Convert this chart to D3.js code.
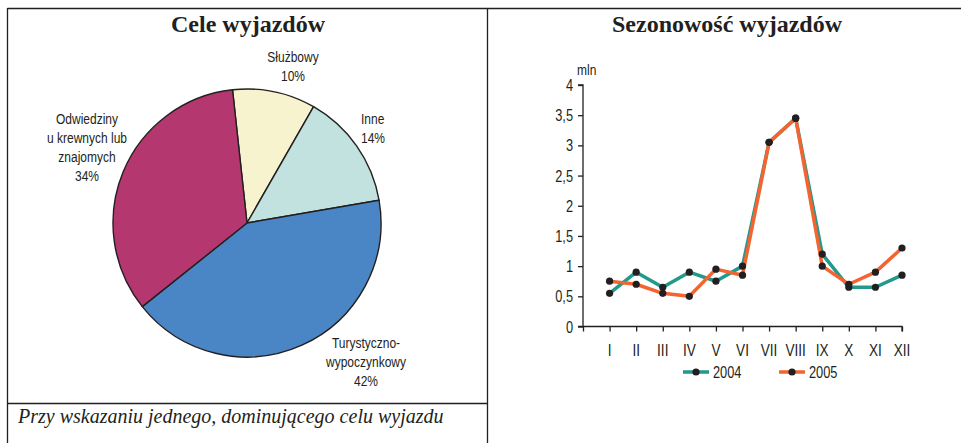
<!DOCTYPE html>
<html>
<head>
<meta charset="utf-8">
<script src="https://cdn.jsdelivr.net/npm/d3@7"></script>
<style>
  body { margin: 0; background: #fff; }
  svg { display: block; }
  .lbl { font-family: "Liberation Sans", Arial, sans-serif; font-size: 15px; fill: #231f20; }
  .title { font-family: "Liberation Serif", "Times New Roman", serif; font-weight: bold; font-size: 24px; fill: #231f20; }
</style>
</head>
<body>
<svg width="961" height="443"></svg>
<script>
// pie data
var purposes = ["Służbowy", "Inne", "Turystyczno-wypoczynkowy", "Odwiedziny u krewnych lub znajomych"];
var purposeShares = [10, 14, 42, 34];
var purposeColors = ["#f8f3cf", "#c2e2df", "#4a86c6", "#b5376f"];

// line data
var months = ["I", "II", "III", "IV", "V", "VI", "VII", "VIII", "IX", "X", "XI", "XII"];
var trips2004 = [0.55, 0.9, 0.65, 0.9, 0.75, 1.0, 3.05, 3.45, 1.2, 0.65, 0.65, 0.85];
var trips2005 = [0.75, 0.7, 0.55, 0.5, 0.95, 0.85, 3.05, 3.45, 1.0, 0.7, 0.9, 1.3];
var yTicks = [0, 0.5, 1, 1.5, 2, 2.5, 3, 3.5, 4];

var svg = d3.select("svg");
var ink = "#231f20";
var narrow = 0.8; // the original uses a condensed sans

// small helper: condensed text placed at x,y
function label(x, y, size, anchor) {
  return svg.append("g")
    .attr("transform", "translate(" + x + "," + y + ") scale(" + narrow + ",1)")
    .append("text").attr("class", "lbl").style("font-size", size + "px")
    .attr("text-anchor", anchor || "start");
}

// frame lines
svg.append("line").attr("x1", 7.5).attr("y1", 8.5).attr("x2", 961).attr("y2", 8.5).attr("stroke", ink).attr("stroke-width", 1.3);
svg.append("line").attr("x1", 7.5).attr("y1", 8).attr("x2", 7.5).attr("y2", 443).attr("stroke", ink).attr("stroke-width", 1.3);
svg.append("line").attr("x1", 487.5).attr("y1", 8).attr("x2", 487.5).attr("y2", 443).attr("stroke", ink).attr("stroke-width", 1.3);
svg.append("line").attr("x1", 7).attr("y1", 403.5).attr("x2", 488).attr("y2", 403.5).attr("stroke", ink).attr("stroke-width", 1.3);

// titles
svg.append("text").attr("class", "title").attr("x", 248).attr("y", 32).attr("text-anchor", "middle").text("Cele wyjazdów");
svg.append("text").attr("class", "title").attr("x", 727).attr("y", 32).attr("text-anchor", "middle").text("Sezonowość wyjazdów");

svg.append("text")
  .attr("x", 18).attr("y", 423)
  .style("font-family", "'Liberation Serif', 'Times New Roman', serif")
  .style("font-style", "italic").style("font-size", "20px").style("fill", ink)
  .text("Przy wskazaniu jednego, dominującego celu wyjazdu");

// ---- pie ----
var start = -6.2 * Math.PI / 180;
var pie = d3.pie().sort(null).startAngle(start).endAngle(start + 2 * Math.PI);
var arc = d3.arc().innerRadius(0).outerRadius(134);

var pg = svg.append("g").attr("transform", "translate(247,223)");
pg.selectAll("path")
  .data(pie(purposeShares))
  .enter().append("path")
  .attr("d", arc)
  .attr("fill", function(d, i) { return purposeColors[i]; })
  .attr("stroke", ink)
  .attr("stroke-width", 1.4)
  .attr("stroke-linejoin", "round");

// pie labels (line breaks as in the original)
var pieLabels = [
  {lines: ["Służbowy", "10%"], x: 293, y: 62, anchor: "middle"},
  {lines: ["Inne", "14%"], x: 361, y: 124, anchor: "start"},
  {lines: ["Turystyczno-", "wypoczynkowy", "42%"], x: 366, y: 348, anchor: "middle"},
  {lines: ["Odwiedziny", "u krewnych lub", "znajomych", "34%"], x: 87, y: 124, anchor: "middle"}
];
pieLabels.forEach(function(l) {
  var t = label(l.x, l.y, 15, l.anchor);
  l.lines.forEach(function(s, k) {
    t.append("tspan").attr("x", 0).attr("y", k * 19).text(s);
  });
});

// ---- line chart ----
var x = d3.scaleLinear().domain([0, 12]).range([583, 902]);
var y = d3.scaleLinear().domain([0, 4]).range([326.5, 85]);

var yAxis = d3.axisLeft(y).tickValues(yTicks).tickSize(5).tickPadding(5)
  .tickFormat(function(d) { return String(d).replace(".", ","); });
var gy = svg.append("g").attr("transform", "translate(583,0)").call(yAxis);
gy.selectAll(".tick text")
  .attr("class", "lbl").style("font-size", "16px")
  .attr("x", -10 / narrow).attr("dy", "0.35em")
  .attr("transform", "scale(" + narrow + ",1)");

var xAxis = d3.axisBottom(x).tickValues(d3.range(0, 13)).tickSize(5).tickFormat("");
var gx = svg.append("g").attr("transform", "translate(0,326.5)").call(xAxis);

[gx, gy].forEach(function(g) {
  g.select(".domain").attr("stroke", ink).attr("stroke-width", 1.3);
  g.selectAll(".tick line").attr("stroke", ink).attr("stroke-width", 1.3);
});
gy.select(".domain").attr("d", "M-5,85H0V326.5");
gx.select(".domain").attr("d", "M578,0H902V5");

months.forEach(function(m, i) {
  label(x(i + 1), 356, 17, "middle").text(m);
});

label(577, 75, 15).text("mln");

var line = d3.line()
  .x(function(d, i) { return x(i + 1); })
  .y(function(d) { return y(d); });

var series = [
  {name: "2004", values: trips2004, color: "#21998b"},
  {name: "2005", values: trips2005, color: "#f26430"}
];

series.forEach(function(s) {
  svg.append("path")
    .datum(s.values)
    .attr("d", line)
    .attr("fill", "none")
    .attr("stroke", s.color)
    .attr("stroke-width", 3.5)
    .attr("stroke-linejoin", "round");
});
series.forEach(function(s) {
  svg.append("g").selectAll("circle")
    .data(s.values)
    .enter().append("circle")
    .attr("cx", function(d, i) { return x(i + 1); })
    .attr("cy", function(d) { return y(d); })
    .attr("r", 3.6)
    .attr("fill", "#231f20");
});

// legend
var legendX = [683, 779];
series.forEach(function(s, i) {
  var lg = svg.append("g").attr("transform", "translate(" + legendX[i] + ",372)");
  lg.append("line").attr("x1", 0).attr("x2", 26).attr("y1", 0).attr("y2", 0)
    .attr("stroke", s.color).attr("stroke-width", 3.5);
  lg.append("circle").attr("cx", 13).attr("cy", 0).attr("r", 3.6).attr("fill", "#231f20");
  label(legendX[i] + 30, 378, 16).text(s.name);
});
</script>
</body>
</html>
